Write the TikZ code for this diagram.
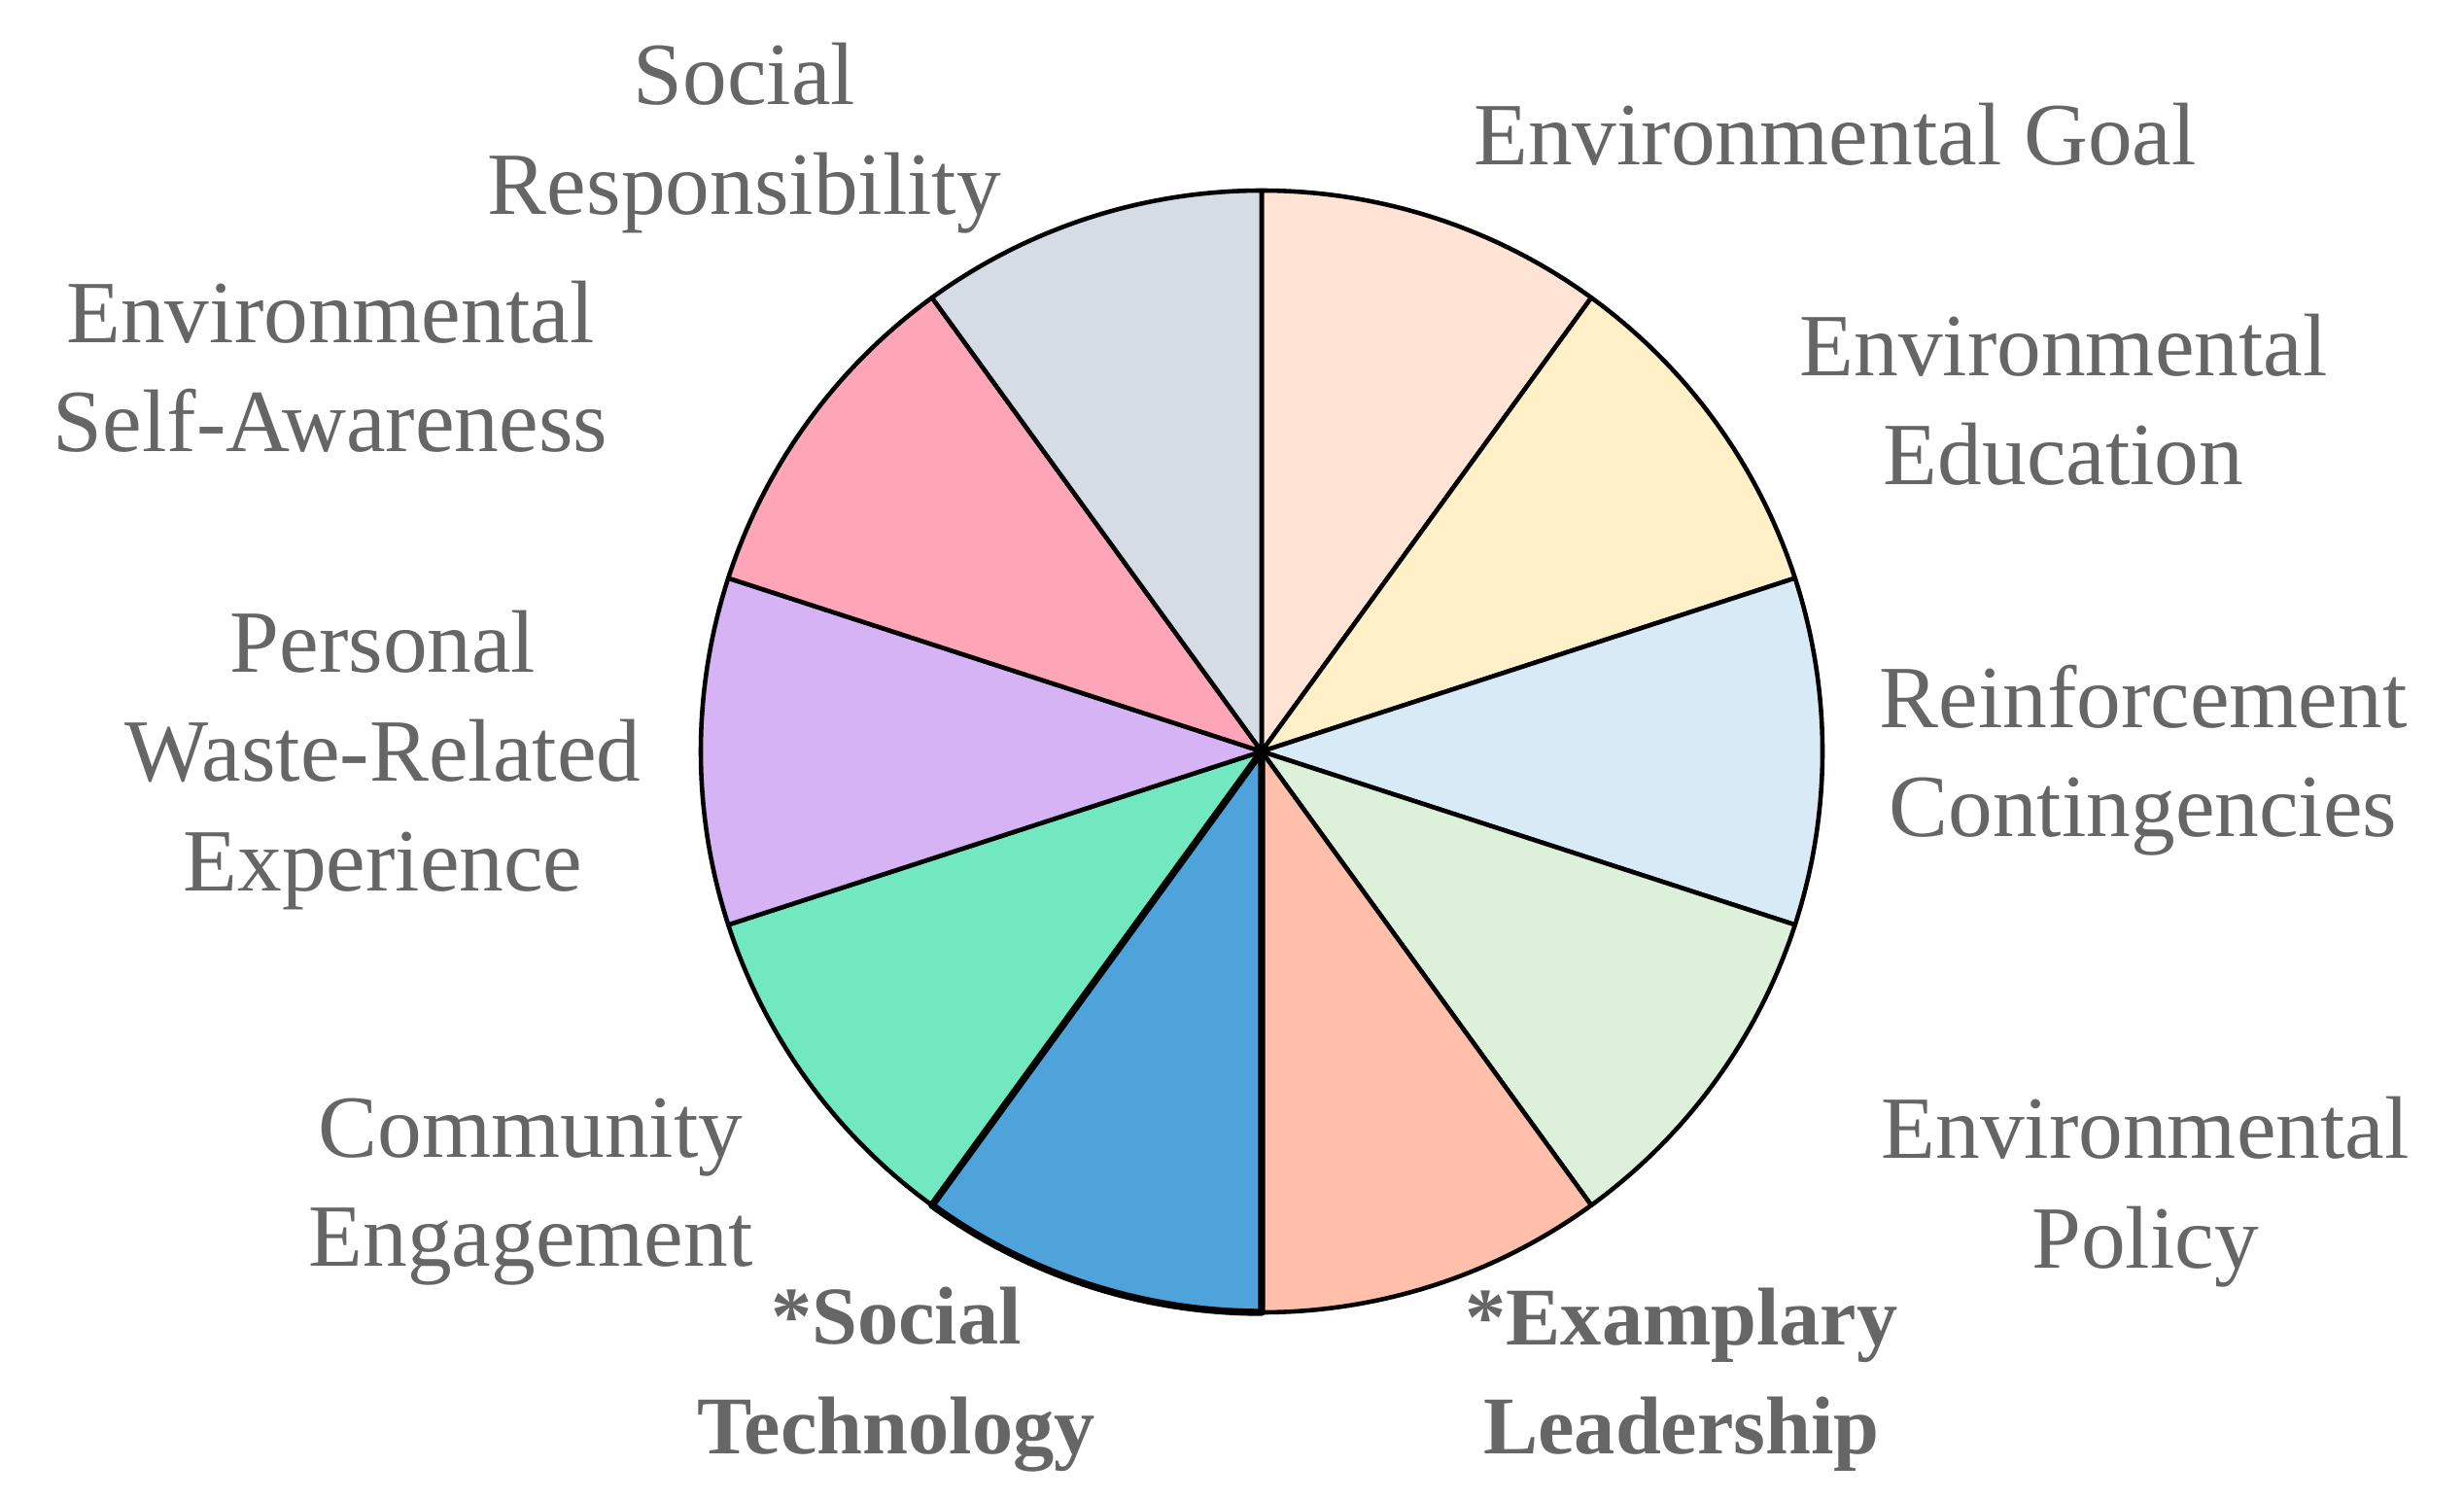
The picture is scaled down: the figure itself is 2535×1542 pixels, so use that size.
\documentclass[tikz,border=0pt]{standalone}
\usepackage{fontspec}
\setmainfont{Liberation Serif}
\definecolor{txt}{HTML}{666666}
\definecolor{cA}{HTML}{FFE4D6}
\definecolor{cB}{HTML}{FFF0C8}
\definecolor{cC}{HTML}{D9EAF7}
\definecolor{cD}{HTML}{DDF0DA}
\definecolor{cE}{HTML}{FFBFAA}
\definecolor{cF}{HTML}{4FA3DB}
\definecolor{cG}{HTML}{72E8C0}
\definecolor{cH}{HTML}{D5B3F5}
\definecolor{cI}{HTML}{FFA5B8}
\definecolor{cJ}{HTML}{D5DCE6}
\tikzset{
  lbl/.style={text=txt, align=center, inner sep=0pt, font=\fontsize{26}{32}\selectfont},
  lblb/.style={lbl, font=\fontsize{24}{32}\selectfont\bfseries},
  edge/.style={draw=black, line width=1.3pt, line join=round},
}
\newcommand{\pieslice}[4]{% color, a1, a2, width
  \fill[#1] (ctr) -- ++(#2:57.7mm) arc[start angle=#2, end angle=#3, radius=57.7mm] -- cycle;
  \draw[edge, line width=#4] (ctr) -- ++(#2:57.7mm) arc[start angle=#2, end angle=#3, radius=57.7mm] -- cycle;
}
\begin{document}
\begin{tikzpicture}[x=0.1mm,y=0.1mm]
\useasboundingbox (0,0) rectangle (2535,1542);
\coordinate (ctr) at (1298,769);
\pieslice{cA}{90}{54}{1.3pt}
\pieslice{cB}{54}{18}{1.3pt}
\pieslice{cC}{18}{-18}{1.3pt}
\pieslice{cD}{-18}{-54}{1.3pt}
\pieslice{cE}{-54}{-90}{1.3pt}
\pieslice{cG}{-126}{-162}{1.3pt}
\pieslice{cH}{-162}{-198}{1.3pt}
\pieslice{cI}{162}{126}{1.3pt}
\pieslice{cJ}{126}{90}{1.3pt}
\pieslice{cF}{-90}{-126}{2.1pt}

\node[lbl] (goal) at (1888,1404) {Environmental Goal};
\node[lbl] (edu) at (2123,1131) {Environmental\\Education};
\node[lbl] (reinf) at (2205,760) {Reinforcement\\Contingencies};
\node[lbl] (policy) at (2207,316) {Environmental\\Policy};
\node[lblb] (lead) at (1730,123) {*Examplary\\Leadership};
\node[lblb] (tech) at (922,123) {*Social\\Technology};
\node[lbl] (comm) at (546,316) {Community\\Engagement};
\node[lbl] (pers) at (394,760) {Personal\\Waste-Related\\Experience};
\node[lbl] (self) at (340,1165) {Environmental\\Self-Awareness};
\node[lbl] (resp) at (766,1400) {Social\\Responsibility};
\end{tikzpicture}
\end{document}
